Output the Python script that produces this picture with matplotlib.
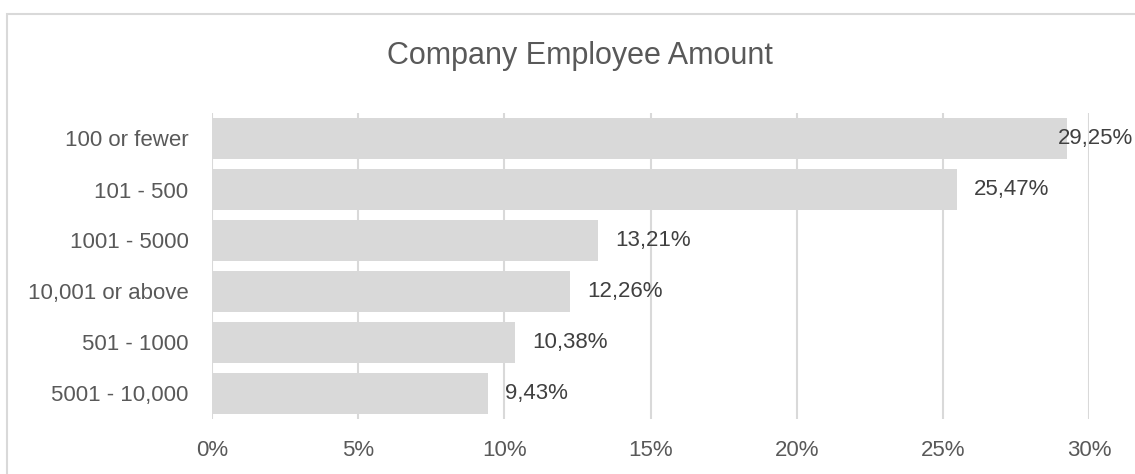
import matplotlib
matplotlib.use("Agg")
import matplotlib.pyplot as plt
from matplotlib.patches import Rectangle

# Share of respondents by company size
categories = ["100 or fewer", "101 - 500", "1001 - 5000", "10,001 or above",
              "501 - 1000", "5001 - 10,000"]
shares = [29.25, 25.47, 13.21, 12.26, 10.38, 9.43]
x_ticks = [0, 5, 10, 15, 20, 25, 30]

plt.rcParams['font.family'] = ['Liberation Sans', 'DejaVu Sans']

W, H = 1135, 474
fig = plt.figure(figsize=(W / 100, H / 100), dpi=100)
ax = fig.add_axes([212 / W, 1 - 419 / H, (1089 - 212) / W, (419 - 113) / H])

ypos = list(range(len(categories)))
ax.barh(ypos, shares, height=0.82, color='#d9d9d9', zorder=2)
ax.set_ylim(len(categories) - 0.5, -0.5)
ax.set_xlim(0, 30)

ax.set_xticks(x_ticks)
ax.set_xticklabels([f"{t}%" for t in x_ticks])
ax.set_yticks(ypos)
ax.set_yticklabels(categories)
ax.tick_params(axis='both', length=0, labelsize=16, labelcolor='#595959')
ax.tick_params(axis='x', pad=15)
ax.tick_params(axis='y', pad=17)
ax.grid(axis='x', color='#d9d9d9', lw=1.5, zorder=1)
for s in ax.spines.values():
    s.set_visible(False)

# value labels, pulled back inside the chart when they run past the edge
right_px = 1133
for y, v in zip(ypos, shares):
    txt = f"{v:.2f}%".replace('.', ',')
    t = ax.annotate(txt, xy=(v, y), xytext=(17, 0), textcoords='offset pixels',
                    ha='left', va='center', fontsize=16, color='#404040', zorder=3)
    fig.canvas.draw()
    if t.get_window_extent().x1 > right_px:
        t.remove()
        ax.annotate(txt, xy=(right_px / W, y), xycoords=('figure fraction', 'data'),
                    ha='right', va='center', fontsize=16, color='#404040', zorder=3)

fig.text(580 / W, 1 - 56 / H, "Company Employee Amount", ha='center', va='center',
         fontsize=22, color='#595959')

# chart area frame
fig.add_artist(Rectangle((7 / W, -0.1), 1.2, 1 - 14 / H + 0.1, transform=fig.transFigure,
                         fill=False, edgecolor='#d9d9d9', lw=1.5))

fig.savefig("out.png", dpi=100)
